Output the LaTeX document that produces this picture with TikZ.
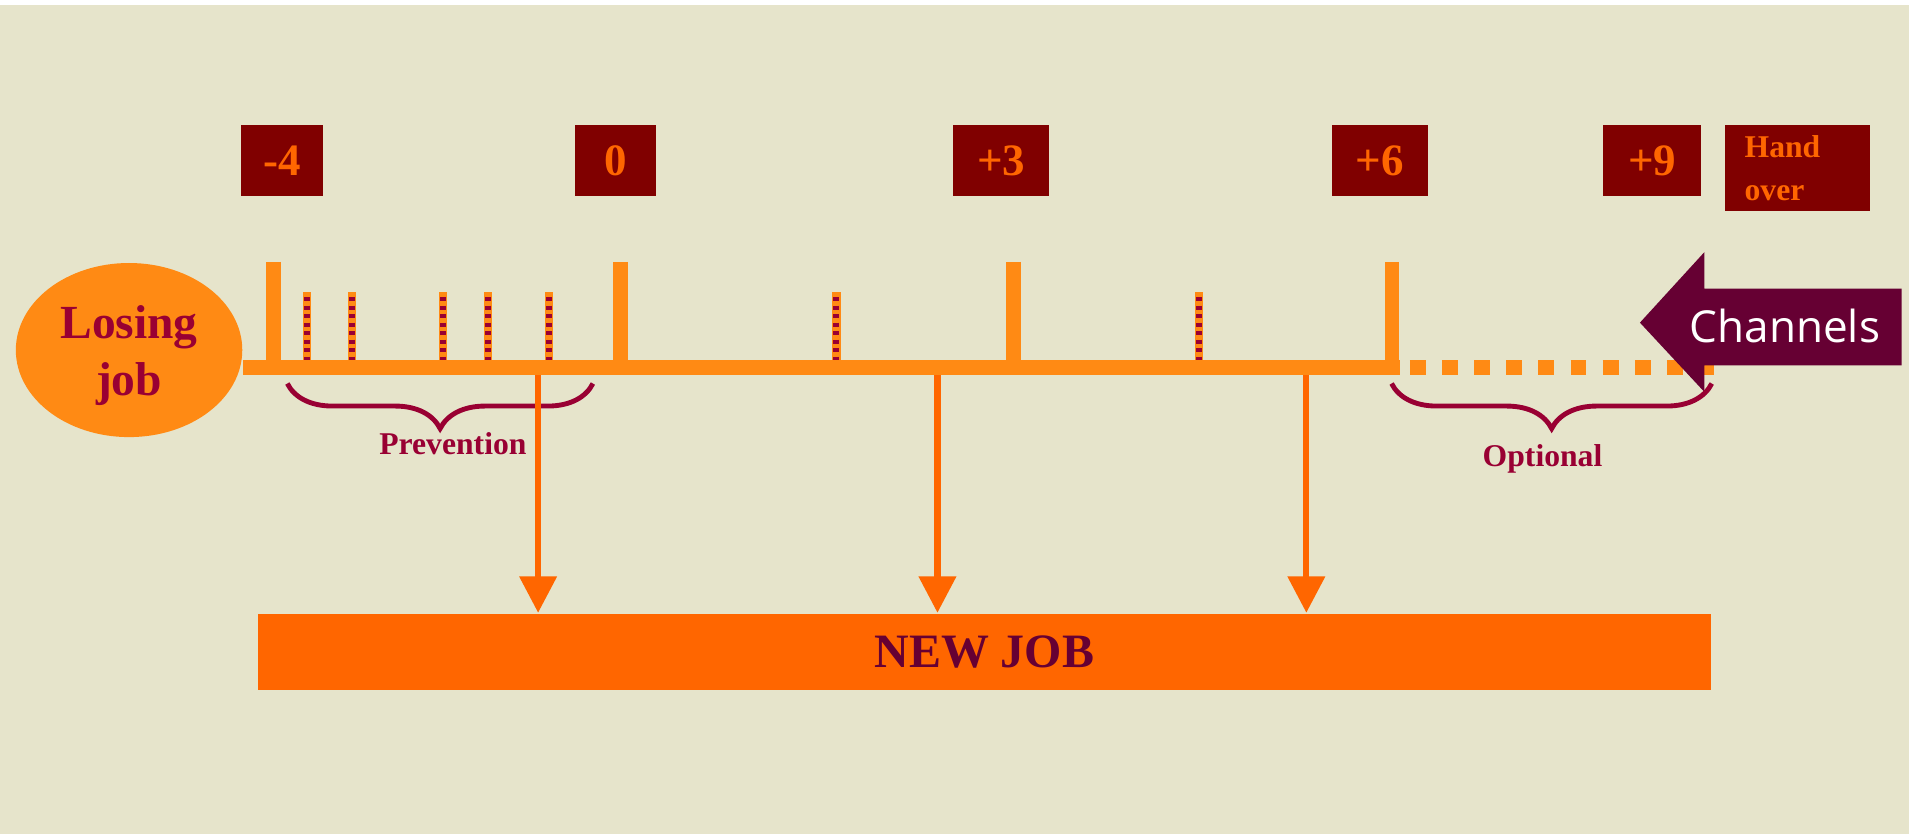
\documentclass[tikz,border=0pt]{standalone}
\usepackage{fontspec}
\setmainfont{Liberation Serif}
\newfontfamily\chanfont{Open Sans}
\usetikzlibrary{arrows.meta,shapes.geometric,decorations.pathreplacing}
\definecolor{bg}{HTML}{E6E4CB}
\definecolor{boxred}{HTML}{800000}
\definecolor{numorange}{HTML}{FF6600}
\definecolor{lineorange}{HTML}{FF8A14}
\definecolor{wine}{HTML}{990033}
\definecolor{plum}{HTML}{660033}

\begin{document}
\begin{tikzpicture}[x=0.1mm,y=-0.1mm,
    monthbox/.style={fill=boxred,text=numorange,font=\bfseries\fontsize{10.5}{12}\selectfont,
        minimum height=5.8mm,inner sep=0pt},
    bigtick/.style={lineorange,line width=1.2mm},
    curly/.style={wine,line width=0.4mm,decorate,decoration={brace,mirror,amplitude=3.7mm}},
    bracetext/.style={text=wine,font=\bfseries\fontsize{7.4}{9}\selectfont},
    down/.style={numorange,line width=0.5mm,-{Triangle[width=3mm,length=3mm]}}]
    % background
    \fill[bg] (0,0) rectangle (1568,685);
    \fill[white] (0,0) rectangle (1568,4);
    % month boxes
    \node[monthbox,minimum width=6.7mm] (m-4) at (231.5,132) {-4};
    \node[monthbox,minimum width=6.7mm] (m0) at (505.5,132) {0};
    \node[monthbox,minimum width=7.9mm] (m3) at (822.5,132) {+3};
    \node[monthbox,minimum width=7.9mm] (m6) at (1133.5,132) {+6};
    \node[monthbox,minimum width=8mm] (m9) at (1357,132) {+9};
    \node[monthbox,minimum width=11.9mm,minimum height=7mm,align=left,text width=8.7mm,
        font=\bfseries\fontsize{7.4}{9.9}\selectfont] (hand) at (1476.5,138) {Hand\\over};
    % time line
    \draw[lineorange,line width=1.2mm] (200,302) -- (1150,302);
    \draw[lineorange,line width=1.2mm,dash pattern=on 1.3mm off 1.34mm] (1158,302) -- (1408,302);
    \foreach \x in {224.5,509.5,832.5,1143.5}
        \draw[bigtick] (\x,215) -- (\x,302);
    \foreach \x in {252,289,364,401,451,687,985} {
        \draw[lineorange,line width=0.7mm] (\x,240) -- (\x,296);
        \draw[wine,line width=0.5mm,dash pattern=on 0.35mm off 0.35mm] (\x,244) -- (\x,296);
    }
    % losing job
    \node[ellipse,fill=lineorange,minimum width=18.6mm,minimum height=14.3mm,inner sep=0pt,
        align=center,text=wine,font=\bfseries\fontsize{11.1}{13.5}\selectfont] (lose) at (106,287.5) {};
    \node[align=center,text=wine,font=\bfseries\fontsize{11.1}{13.5}\selectfont] (losetext) at (106,292) {Losing\\job};
    % channels
    \fill[plum] (1347,265) -- (1400,207) -- (1400,237) -- (1562,237) -- (1562,300)
        -- (1400,300) -- (1400,322) -- cycle;
    \node[text=white,font=\chanfont\fontsize{10.3}{12}\selectfont] (chan) at (1466,268) {Channels};
    % braces
    \draw[curly] (236,315) -- (487,315);
    \node[bracetext] (prev) at (372,364) {Prevention};
    \draw[curly] (1143,315) -- (1406,315);
    \node[bracetext] (opt) at (1267,377) {Optional};
    % new job
    \node[fill=numorange,minimum width=119.3mm,minimum height=6.3mm,inner sep=0pt,text=plum,
        font=\bfseries\fontsize{11.2}{13}\selectfont] (newjob) at (808.5,535.5) {NEW JOB};
    \foreach \x [count=\i] in {442,770,1073} {
        \coordinate (p\i) at (\x,308);
        \draw[down] (p\i) -- (p\i |- newjob.north);
    }
\end{tikzpicture}
\end{document}
